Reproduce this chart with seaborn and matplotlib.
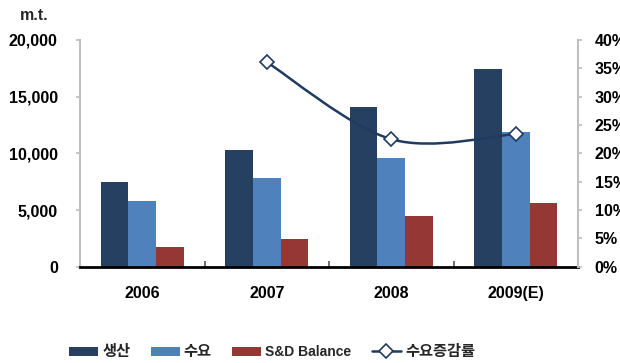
import numpy as np
import pandas as pd
import matplotlib
matplotlib.use("Agg")
import matplotlib.pyplot as plt
import seaborn as sns
from matplotlib.path import Path
from matplotlib.patches import PathPatch, Patch
from matplotlib.lines import Line2D
from matplotlib.ticker import FuncFormatter, MultipleLocator

# ---- data ----
years = ["2006", "2007", "2008", "2009(E)"]
production = [7500, 10300, 14100, 17450]      # 생산
demand = [5770, 7800, 9560, 11860]            # 수요
balance = [1710, 2440, 4500, 5650]            # S&D Balance
demand_growth = [np.nan, 0.361, 0.225, 0.234] # 수요증감률
series_names = ["생산", "수요", "S&D Balance"]
line_name = "수요증감률"
unit_label = "m.t."

colors = ["#254061", "#4F81BD", "#953735"]
line_color = "#203A60"

sns.set_theme(style="white")
FONT = ["Liberation Sans", "Noto Sans CJK KR", "DejaVu Sans"]
plt.rcParams["font.family"] = FONT
plt.rcParams["font.weight"] = "bold"
TICK_FS = 11.5

df = pd.DataFrame({
    "year": years * 3,
    "value": production + demand + balance,
    "series": [s for s in series_names for _ in years],
})

fig = plt.figure(figsize=(6.2, 3.63), dpi=100)
ax = fig.add_axes([80/620, 1-266.7/363, (578-80)/620, (266.7-40)/363])

sns.barplot(data=df, x="year", y="value", hue="series", palette=colors,
            width=0.67, gap=0, saturation=1, ax=ax, legend=False,
            edgecolor="none", linewidth=0)

ax.set_xlim(-0.5, 3.5)
ax.set_ylim(0, 20000)
ax.yaxis.set_major_locator(MultipleLocator(5000))
ax.yaxis.set_major_formatter(FuncFormatter(lambda v, p: f"{int(v):,}"))
ax.set_xlabel("")
ax.set_ylabel("")
for s in ["top", "right"]:
    ax.spines[s].set_visible(False)
ax.spines["left"].set_color("#BFBFBF")
ax.spines["left"].set_linewidth(1.5)
ax.spines["bottom"].set_color("black")
ax.spines["bottom"].set_linewidth(2)
ax.tick_params(axis="y", direction="out", length=3, color="#BFBFBF", pad=13,
               labelsize=TICK_FS, left=True)
ax.tick_params(axis="x", length=0, pad=14, labelsize=TICK_FS)
ax.set_xticks([0.5, 1.5, 2.5], minor=True)
ax.tick_params(axis="x", which="minor", direction="in", length=4, color="#555555",
               width=1.2, bottom=True)
for lab in ax.get_xticklabels() + ax.get_yticklabels():
    lab.set_fontweight("bold")
    lab.set_color("black")

# secondary axis
ax2 = ax.twinx()
ax2.set_ylim(0, 0.4)
ax2.yaxis.set_major_locator(MultipleLocator(0.05))
ax2.yaxis.set_major_formatter(FuncFormatter(lambda v, p: f"{v*100:.0f}%"))
for s in ["top", "left", "bottom"]:
    ax2.spines[s].set_visible(False)
ax2.spines["right"].set_color("#BFBFBF")
ax2.spines["right"].set_linewidth(1.5)
ax2.tick_params(axis="y", direction="out", length=3, color="#BFBFBF", pad=9,
                labelsize=TICK_FS, right=True)
for lab in ax2.get_yticklabels():
    lab.set_fontweight("bold")
    lab.set_color("black")
ax2.grid(False)
ax.grid(False)

# smoothed line (Catmull-Rom style bezier in display space)
idx = [i for i, v in enumerate(demand_growth) if not np.isnan(v)]
pts_data = np.array([[i, demand_growth[i]] for i in idx])
tr = ax2.transData
pts = tr.transform(pts_data)
verts = [pts[0]]
codes = [Path.MOVETO]
n = len(pts)
for k in range(n - 1):
    p0 = pts[k - 1] if k > 0 else pts[k]
    p1 = pts[k]
    p2 = pts[k + 1]
    p3 = pts[k + 2] if k + 2 < n else pts[k + 1]
    c1 = p1 + (p2 - p0) / 6
    c2 = p2 - (p3 - p1) / 6
    verts += [c1, c2, p2]
    codes += [Path.CURVE4] * 3
verts_data = tr.inverted().transform(np.array(verts))
ax2.add_patch(PathPatch(Path(verts_data, codes), facecolor="none",
                        edgecolor=line_color, linewidth=1.8, zorder=3))
ax2.plot(pts_data[:, 0], pts_data[:, 1], linestyle="none", marker="D",
         markersize=7, markerfacecolor="white", markeredgecolor=line_color,
         markeredgewidth=1.2, zorder=4)

# unit label
fig.text(20/620, 1-16/363, unit_label, fontsize=TICK_FS, fontweight="bold",
         ha="left", va="center")

# legend
handles = [Patch(facecolor=c, edgecolor="none") for c in colors]
handles.append(Line2D([], [], color=line_color, linewidth=1.8, marker="D",
                      markersize=7, markerfacecolor="white",
                      markeredgecolor=line_color, markeredgewidth=1.2))
leg = fig.legend(handles, series_names + [line_name], loc="center",
                 bbox_to_anchor=(272/620, 1-352/363), ncol=4, frameon=False,
                 handlelength=2.1, handleheight=0.6, handletextpad=0.3,
                 columnspacing=1.45, prop={"size": 10, "weight": "bold"})
for t in leg.get_texts():
    if t.get_text() != "S&D Balance":
        t.set_fontsize(11)

fig.savefig("out.png", dpi=100)
